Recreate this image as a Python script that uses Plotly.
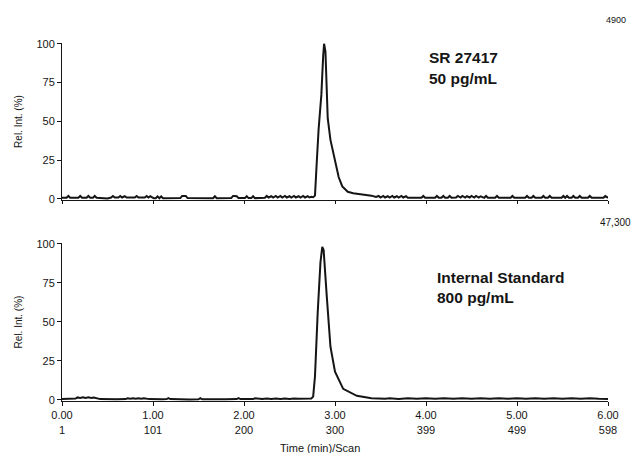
import plotly.graph_objects as go

# ---------------- data ----------------
# Top panel: SR 27417, 50 pg/mL (full scale 4900)
top_t = [0.00, 0.05, 0.07, 0.09, 0.18, 0.20, 0.22, 0.27, 0.29, 0.31, 0.34, 0.36, 0.38,
         0.50, 0.54, 0.56, 0.58, 0.62, 0.64, 0.66, 0.69, 0.71, 0.80, 0.82, 0.84, 0.91,
         0.93, 0.95, 0.97, 0.99, 1.01, 1.03, 1.05, 1.07, 1.09, 1.11, 1.13, 1.30, 1.32,
         1.34, 1.36, 1.38, 1.66, 1.68, 1.70, 1.86, 1.88, 1.90, 1.92, 1.94, 2.01, 2.03,
         2.05, 2.08, 2.10, 2.12, 2.23, 2.25, 2.27, 2.30, 2.32, 2.35, 2.37, 2.40, 2.42,
         2.45, 2.47, 2.50, 2.52, 2.55, 2.57, 2.60, 2.62, 2.65, 2.67, 2.70, 2.72, 2.74,
         2.76,
         2.78, 2.79, 2.80, 2.82, 2.85, 2.87, 2.88, 2.895, 2.91, 2.92, 2.95, 3.00, 3.04,
         3.08, 3.14, 3.20, 3.30, 3.40, 3.45,
         3.48, 3.50, 3.53, 3.55, 3.58, 3.60, 3.63, 3.65, 3.68, 3.70, 3.73, 3.75, 3.78,
         3.80, 3.95, 3.97, 3.99, 4.10, 4.12, 4.14, 4.17, 4.19, 4.21, 4.24, 4.26, 4.28,
         4.33, 4.35, 4.38, 4.40, 4.43, 4.45, 4.48, 4.50, 4.53, 4.55, 4.58, 4.60, 4.64,
         4.66, 4.68, 4.76, 4.78, 4.80, 4.93, 4.95, 4.97, 5.09, 5.11, 5.13, 5.16, 5.18,
         5.20, 5.27, 5.29, 5.31, 5.34, 5.36, 5.38, 5.49, 5.51, 5.53, 5.55, 5.57, 5.60,
         5.62, 5.64, 5.67, 5.69, 5.71, 5.78, 5.80, 5.82, 5.95, 5.97, 6.00]
top_v = [0.6, 0.6, 1.8, 0.6, 0.6, 1.8, 0.6, 0.6, 1.8, 0.6, 0.6, 1.8, 0.6,
         0.2, 0.8, 1.8, 0.8, 0.8, 1.8, 0.8, 1.6, 0.8, 0.8, 1.8, 0.8, 0.8,
         1.8, 0.8, 1.6, 0.8, 0.3, 0.3, 1.5, 0.3, 1.5, 0.3, 0.3, 0.4, 1.8,
         1.8, 1.8, 0.4, 0.3, 1.6, 0.3, 0.4, 1.8, 1.8, 1.6, 0.4, 0.4, 1.6,
         0.4, 0.4, 1.6, 0.4, 0.6, 1.8, 0.8, 1.6, 0.8, 1.8, 0.8, 1.8, 0.8,
         1.8, 0.8, 1.6, 0.8, 1.8, 0.8, 1.6, 0.8, 1.8, 0.8, 1.6, 0.8, 1.2,
         1.0,
         2.0, 10.0, 24.0, 45.0, 67.0, 92.0, 100.0, 95.0, 70.0, 52.0, 38.0, 24.0, 14.0,
         8.0, 4.5, 3.5, 2.8, 2.0, 1.2,
         1.8, 0.8, 1.8, 0.8, 1.6, 0.8, 1.8, 0.8, 1.6, 0.8, 1.8, 0.8, 1.6,
         0.6, 0.6, 1.8, 0.6, 0.6, 1.8, 0.6, 0.6, 1.8, 0.6, 0.6, 1.8, 0.6,
         0.8, 1.8, 0.8, 1.8, 0.8, 1.6, 0.8, 1.8, 0.8, 1.8, 0.8, 1.6, 0.6,
         1.8, 0.6, 0.6, 1.8, 0.6, 0.6, 1.8, 0.6, 0.6, 1.8, 0.6, 0.6, 1.8,
         0.6, 0.6, 1.8, 0.6, 0.6, 1.8, 0.6, 0.6, 1.8, 0.6, 1.8, 0.6, 0.6,
         1.8, 0.6, 0.6, 1.8, 0.6, 0.6, 1.8, 0.6, 0.6, 1.8, 0.6]

# Bottom panel: internal standard, 800 pg/mL (full scale 47,300)
bot_t = [0.00, 0.10, 0.15, 0.17, 0.20, 0.23, 0.26, 0.29, 0.32, 0.35, 0.38, 0.42,
         0.60, 0.70, 0.72, 0.75, 0.78, 0.81, 0.84, 0.87, 0.90, 0.93, 0.96, 1.10,
         1.15, 1.17, 1.19, 1.40, 1.50, 1.52, 1.54, 1.80, 1.92, 1.94, 1.96, 2.10,
         2.12, 2.20, 2.25, 2.30, 2.35, 2.40, 2.45, 2.50, 2.55, 2.60, 2.65, 2.70,
         2.74,
         2.76, 2.78, 2.81, 2.84, 2.86, 2.875, 2.91, 2.95, 3.00, 3.09, 3.24, 3.40,
         3.55, 3.60, 3.70, 3.80, 3.90, 4.00, 4.10, 4.20, 4.30, 4.40, 4.50, 4.60,
         4.70, 4.80, 4.90, 5.00, 5.10, 5.20, 5.30, 5.40, 5.50, 5.60, 5.70, 5.80,
         5.90, 6.00]
bot_v = [0.5, 0.5, 0.8, 1.5, 1.2, 1.6, 1.2, 1.6, 1.2, 1.5, 1.0, 0.4,
         0.3, 0.4, 1.0, 0.6, 1.0, 0.6, 1.0, 0.6, 1.0, 0.6, 0.4, 0.3,
         0.4, 1.0, 0.4, 0.2, 0.3, 1.0, 0.3, 0.3, 0.4, 1.0, 0.4, 0.4,
         0.9, 0.5, 0.8, 0.5, 0.8, 0.5, 0.8, 0.5, 0.8, 0.6, 0.8, 0.6,
         0.8,
         2.0, 15.0, 56.0, 88.0, 98.0, 96.0, 66.0, 34.0, 18.0, 7.0, 2.5, 1.0,
         0.6, 0.9, 0.5, 0.9, 0.6, 0.9, 0.6, 1.0, 0.6, 0.9, 0.6, 0.9,
         0.6, 0.9, 0.6, 0.9, 0.6, 0.9, 0.6, 0.9, 0.6, 0.9, 0.6, 0.9,
         0.6, 0.5]

x_tickvals = [0, 1, 2, 3, 4, 5, 6]
x_time_labels = ["0.00", "1.00", "2.00", "3.00", "4.00", "5.00", "6.00"]
x_scan_labels = ["1", "101", "200", "300", "399", "499", "598"]
y_tickvals = [0, 25, 50, 75, 100]

# ---------------- figure ----------------
INK = "#151515"
FONT = "Liberation Sans, Arial, sans-serif"

fig = go.Figure()
fig.add_trace(go.Scatter(x=top_t, y=top_v, mode="lines", xaxis="x", yaxis="y",
                         line=dict(color=INK, width=2), showlegend=False))
fig.add_trace(go.Scatter(x=bot_t, y=bot_v, mode="lines", xaxis="x2", yaxis="y2",
                         line=dict(color=INK, width=2), showlegend=False))

common_x = dict(range=[0, 6], showline=True, linecolor=INK, linewidth=1,
                ticks="outside", ticklen=3, tickcolor=INK, tickwidth=1,
                tickvals=x_tickvals, showgrid=False, zeroline=False, automargin=False)
common_y = dict(range=[-0.8, 100.5], showline=True, linecolor=INK, linewidth=1,
                ticks="outside", ticklen=4, tickcolor=INK, tickwidth=1,
                tickvals=y_tickvals, showgrid=False, zeroline=False, automargin=False,
                tickfont=dict(size=11, color=INK, family=FONT),
                title=dict(text="Rel. Int. (%)", font=dict(size=10, color=INK, family=FONT),
                           standoff=11))

ticktext = [f"{a}<br>{b}" for a, b in zip(x_time_labels, x_scan_labels)]

fig.update_layout(
    width=638, height=453,
    margin=dict(l=62, r=30, t=43, b=52, autoexpand=False),
    paper_bgcolor="white", plot_bgcolor="white",
    font=dict(family=FONT, color=INK),
    xaxis=dict(common_x, domain=[0, 1], anchor="y", showticklabels=False),
    yaxis=dict(common_y, domain=[0.5615, 1], anchor="x"),
    xaxis2=dict(common_x, domain=[0, 1], anchor="y2", ticklen=4,
                ticktext=ticktext, tickfont=dict(size=11, color=INK, family=FONT)),
    yaxis2=dict(common_y, domain=[0, 0.4413], anchor="x2"),
)

ann = [
    dict(text="SR 27417", x=0.668, y=0.960, size=15.5, bold=True, xanchor="left"),
    dict(text="50 pg/mL", x=0.668, y=0.901, size=15.5, bold=True, xanchor="left"),
    dict(text="Internal Standard", x=0.683, y=0.346, size=15.5, bold=True, xanchor="left"),
    dict(text="800 pg/mL", x=0.683, y=0.290, size=15.5, bold=True, xanchor="left"),
    dict(text="4900", x=1.037, y=1.064, size=9, bold=False, xanchor="right"),
    dict(text="47,300", x=1.046, y=0.500, size=10, bold=False, xanchor="right"),
    dict(text="Time (min)/Scan", x=0.4725, y=-0.131, size=11, bold=False, xanchor="center"),
]
for a in ann:
    txt = f"<b>{a['text']}</b>" if a["bold"] else a["text"]
    fig.add_annotation(text=txt, x=a["x"], y=a["y"], xref="paper", yref="paper",
                       xanchor=a["xanchor"], yanchor="middle", showarrow=False,
                       font=dict(size=a["size"], color=INK, family=FONT))

# remove the browser's default 8px body margin so the figure fills the window
fig.write_html("out.html",
               config={"displayModeBar": False},
               post_script="document.body.style.margin='0';document.body.style.overflow='hidden';")
